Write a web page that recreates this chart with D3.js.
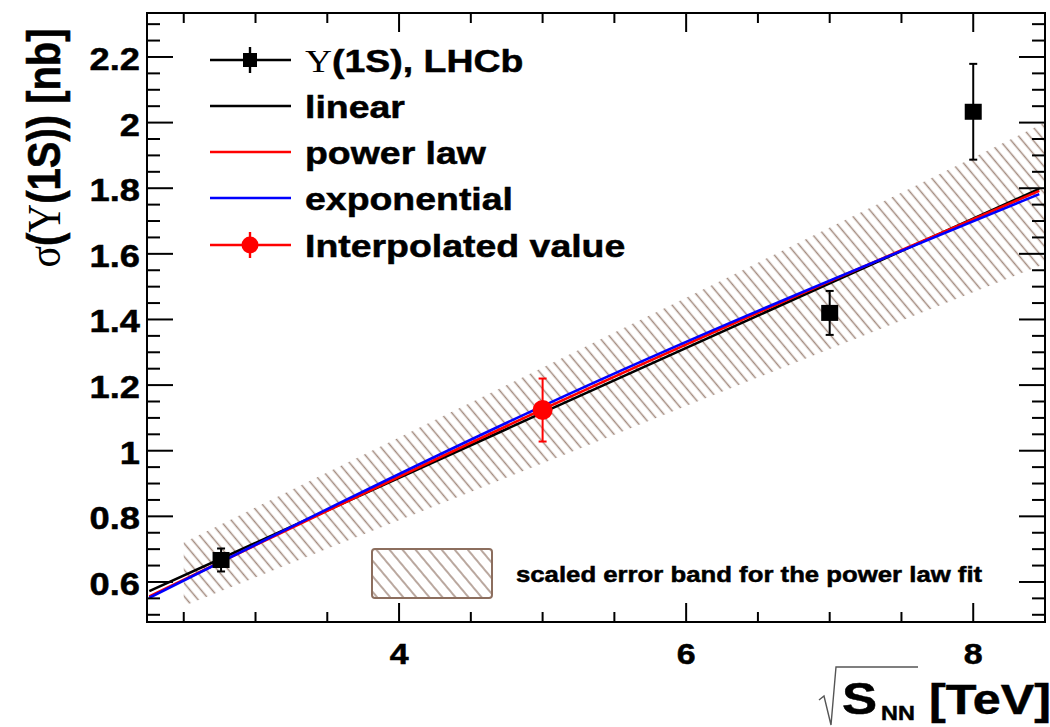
<!DOCTYPE html>
<html>
<head>
<meta charset="utf-8">
<script src="https://cdn.jsdelivr.net/npm/d3@7"></script>
<style>
  body { margin: 0; background: #fff; }
  svg { display: block; }
</style>
</head>
<body>
<div id="chart"></div>
<script>
// LHCb UPSILON(1S) POINTS (sqrt(s) in TeV, sigma in nb)
var lhcbEnergy = [2.76, 7, 8];
var lhcbSigma = [0.667, 1.42, 2.033];
var lhcbErr = [0.035, 0.067, 0.146];

// INTERPOLATED VALUE AT 5 TeV
var interpEnergy = [5.0];
var interpSigma = [1.124];
var interpErr = [0.096];

// FIT CURVES
var fitEnergy = [2.26, 5, 8.46];
var linearFit = [0.572, 1.116, 1.798];
var powerFit = [0.556, 1.126, 1.792];
var expoFit = [0.552, 1.136, 1.782];

// SCALED ERROR BAND OF THE POWER LAW FIT
var bandEnergy = [2.5, 4, 5.5, 7, 8.5];
var bandLow = [0.527, 0.788, 1.049, 1.31, 1.57];
var bandHigh = [0.72, 1.04, 1.36, 1.68, 2.0];

// TICKS
var xTicks = [4, 6, 8];
var yTicks = [0.6, 0.8, 1, 1.2, 1.4, 1.6, 1.8, 2, 2.2];

// LEGEND
var legendLabels = ['(1S), LHCb', 'linear', 'power law', 'exponential', 'Interpolated value'];
var legendColors = ['black', 'black', 'red', 'blue', 'red'];

// SETTINGS
var settings = {
   width: 1050,
   height: 727,
   frame: { left: 147, top: 13, right: 1045, bottom: 622 },
   stretch: 1.17,
   hatch: '#a38b7f',
   font: '"Liberation Sans", Arial, Helvetica, sans-serif',
   serif: '"Liberation Serif", "Times New Roman", serif'
};
var f = settings.frame;

var svg = d3.select('#chart').append('svg')
   .attr('width', settings.width)
   .attr('height', settings.height)
   .style('font-family', settings.font)
   .style('font-weight', 'bold');

// SCALES
var xScale = d3.scaleLinear().domain([2.244, 8.5]).range([f.left, f.right]);
var yScale = d3.scaleLinear().domain([0.478, 2.334]).range([f.bottom, f.top]);

// PATTERNS AND CLIP
var defs = svg.append('defs');
function hatchPattern(id, gap, width) {
   var p = defs.append('pattern')
      .attr('id', id)
      .attr('patternUnits', 'userSpaceOnUse')
      .attr('width', gap).attr('height', gap)
      .attr('patternTransform', 'rotate(-40)');
   p.append('line')
      .attr('x1', gap / 2).attr('y1', -1)
      .attr('x2', gap / 2).attr('y2', gap + 1)
      .attr('stroke', settings.hatch)
      .attr('stroke-width', width);
}
hatchPattern('hatch', 8.5, 1.5);
hatchPattern('hatchLegend', 10, 1.5);

defs.append('clipPath').attr('id', 'plotClip')
   .append('rect')
   .attr('x', f.left).attr('y', f.top)
   .attr('width', f.right - f.left).attr('height', f.bottom - f.top);

var plot = svg.append('g').attr('clip-path', 'url(#plotClip)');

// ERROR BAND
var bandData = bandEnergy.map((e, i) => ({ x: e, lo: bandLow[i], hi: bandHigh[i] }));
plot.append('path')
   .datum(bandData)
   .attr('fill', 'url(#hatch)')
   .attr('d', d3.area()
      .x(d => xScale(d.x))
      .y0(d => yScale(d.lo))
      .y1(d => yScale(d.hi))
      .curve(d3.curveMonotoneX));

// FIT LINES
var line = d3.line()
   .x((d, i) => xScale(fitEnergy[i]))
   .y(d => yScale(d))
   .curve(d3.curveMonotoneX);

[[linearFit, 'black'], [powerFit, 'red'], [expoFit, 'blue']].forEach(function (fit) {
   plot.append('path')
      .datum(fit[0])
      .attr('fill', 'none')
      .attr('stroke', fit[1])
      .attr('stroke-width', 2.6)
      .attr('d', line);
});

// ERROR BARS
function errorBars(energy, value, err, color, cap) {
   var g = plot.append('g').attr('stroke', color).attr('stroke-width', 2);
   energy.forEach(function (e, i) {
      var x = xScale(e);
      var y0 = yScale(value[i] - err[i]);
      var y1 = yScale(value[i] + err[i]);
      g.append('line').attr('x1', x).attr('x2', x).attr('y1', y0).attr('y2', y1);
      g.append('line').attr('x1', x - cap).attr('x2', x + cap).attr('y1', y0).attr('y2', y0);
      g.append('line').attr('x1', x - cap).attr('x2', x + cap).attr('y1', y1).attr('y2', y1);
   });
}

errorBars(lhcbEnergy, lhcbSigma, lhcbErr, 'black', 4);
plot.selectAll('rect.lhcb').data(lhcbEnergy).enter()
   .append('rect')
   .attr('class', 'lhcb')
   .attr('x', d => xScale(d) - 8.5)
   .attr('y', (d, i) => yScale(lhcbSigma[i]) - 8)
   .attr('width', 17)
   .attr('height', 16)
   .attr('fill', 'black');

errorBars(interpEnergy, interpSigma, interpErr, 'red', 4);
plot.selectAll('circle.interp').data(interpEnergy).enter()
   .append('circle')
   .attr('cx', d => xScale(d))
   .attr('cy', (d, i) => yScale(interpSigma[i]))
   .attr('r', 10)
   .attr('fill', 'red');

// FRAME
svg.append('rect')
   .attr('x', f.left).attr('y', f.top)
   .attr('width', f.right - f.left).attr('height', f.bottom - f.top)
   .attr('fill', 'none')
   .attr('stroke', 'black')
   .attr('stroke-width', 2);

// TICKS ON ALL FOUR SIDES
var ticks = svg.append('g').attr('stroke', 'black').attr('stroke-width', 2);
d3.range(2.5, 8.5, 0.5).forEach(function (v) {
   var x = xScale(v);
   var len = (v % 2 === 0) ? 19 : 10;
   ticks.append('line').attr('x1', x).attr('x2', x).attr('y1', f.bottom).attr('y2', f.bottom - len);
   ticks.append('line').attr('x1', x).attr('x2', x).attr('y1', f.top).attr('y2', f.top + len);
});
d3.range(0.5, 2.35, 0.05).forEach(function (v) {
   var y = yScale(v);
   if (y < f.top + 1 || y > f.bottom - 1) return;
   var major = Math.abs(Math.round(v * 5) - v * 5) < 1e-6;
   var len = major ? 26 : 13;
   ticks.append('line').attr('x1', f.left).attr('x2', f.left + len).attr('y1', y).attr('y2', y);
   ticks.append('line').attr('x1', f.right).attr('x2', f.right - len).attr('y1', y).attr('y2', y);
});

// TEXT HELPER (THE ORIGINAL IS STRETCHED SIDEWAYS)
function label(x, y, size, anchor) {
   return svg.append('text')
      .attr('transform', 'translate(' + x + ',' + y + ') scale(' + settings.stretch + ',1)')
      .attr('text-anchor', anchor || 'start')
      .attr('font-size', size)
      .attr('stroke', 'black')
      .attr('stroke-width', 0.5);
}

// TICK LABELS
yTicks.forEach(function (v) {
   label(140, yScale(v) + 13, 31, 'end').text(d3.format('')(v));
});
xTicks.forEach(function (v) {
   label(xScale(v), 664, 29, 'middle').text(v);
});

// AXIS TITLES
var yTitle = svg.append('text')
   .attr('transform', 'translate(60,148) scale(' + settings.stretch + ',1) rotate(-90)')
   .attr('text-anchor', 'middle')
   .attr('font-size', 40)
   .attr('stroke', 'black')
   .attr('stroke-width', 0.5);
yTitle.append('tspan').attr('font-family', settings.serif).attr('font-weight', 'normal').attr('stroke-width', 0).text('σ');
yTitle.append('tspan').text('(');
yTitle.append('tspan').attr('font-family', settings.serif).attr('font-weight', 'normal').attr('stroke-width', 0).text('Υ');
yTitle.append('tspan').text('(1S)) [nb]');

svg.append('path')
   .attr('d', 'M819,700 L824,696 L831,725 L836,667 L918,667')
   .attr('fill', 'none')
   .attr('stroke', '#555')
   .attr('stroke-width', 1.4);
label(842, 714, 45).text('S');
label(881, 720, 20).text('NN');
label(929, 714, 43).text('[TeV]');

// LEGEND
var rowY = [60, 106, 152, 198, 245];
var legend = svg.append('g');
legendLabels.forEach(function (txt, i) {
   var y = rowY[i];
   legend.append('line')
      .attr('x1', 210).attr('x2', 291).attr('y1', y).attr('y2', y)
      .attr('stroke', legendColors[i]).attr('stroke-width', 2.4);
   if (i === 0 || i === 4) {
      legend.append('line')
         .attr('x1', 250).attr('x2', 250).attr('y1', y - 13).attr('y2', y + 13)
         .attr('stroke', legendColors[i]).attr('stroke-width', 2.4);
   }
   if (i === 0) {
      legend.append('rect').attr('x', 243).attr('y', y - 7).attr('width', 14).attr('height', 14).attr('fill', 'black');
   }
   if (i === 4) {
      legend.append('circle').attr('cx', 250).attr('cy', y).attr('r', 8.5).attr('fill', 'red');
   }
   var t = label(305, y + 12, 32);
   if (i === 0) {
      t.append('tspan').attr('font-family', settings.serif).attr('font-weight', 'normal').attr('stroke-width', 0).text('Υ');
   }
   t.append('tspan').text(txt);
});

// ERROR BAND LEGEND
svg.append('rect')
   .attr('x', 372).attr('y', 549)
   .attr('width', 120).attr('height', 49)
   .attr('rx', 3)
   .attr('fill', 'url(#hatchLegend)')
   .attr('stroke', '#8c6e5e')
   .attr('stroke-width', 2);
label(516, 582, 22).text('scaled error band for the power law fit');
</script>
</body>
</html>
